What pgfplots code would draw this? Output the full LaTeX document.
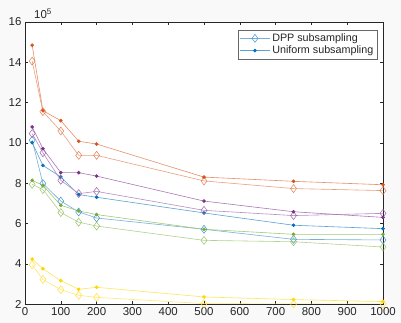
\documentclass[border=0pt]{standalone}
\usepackage{fontspec}
\setmainfont{Liberation Sans}
\usepackage{pgfplots}
\pgfplotsset{compat=1.18}
\definecolor{mblue}{rgb}{0,0.447,0.741}
\definecolor{morange}{rgb}{0.85,0.325,0.098}
\definecolor{myellow}{RGB}{255,215,0}
\definecolor{mpurple}{rgb}{0.494,0.184,0.556}
\definecolor{mgreen}{rgb}{0.466,0.674,0.188}
\definecolor{axcol}{RGB}{38,38,38}
\pgfplotsset{
  dpp/.style={color=#1!55!white, line width=0.6pt, mark=diamond, mark size=4bp, mark options={draw=#1!75!white, fill=white, line width=0.5pt}},
  uni/.style={color=#1!65!white, line width=0.6pt, mark=*, mark size=1.5bp, mark options={draw=#1, fill=#1}},
}
\begin{document}
\begin{tikzpicture}
\fill[gray!5] (0,0) rectangle (401bp,323bp);
\begin{axis}[
  name=ax,
  at={(25bp,19bp)}, anchor=south west,
  scale only axis, width=358bp, height=282bp,
  xmin=0, xmax=1000, ymin=2, ymax=16,
  xtick={0,100,...,1000}, ytick={2,4,...,16},
  tick align=inside, major tick length=3bp,
  tick style={color=axcol, line width=0.4pt},
  axis line style={color=axcol, line width=0.5pt},
  axis background/.style={fill=white},
  ticklabel style={font=\fontsize{11.5}{12}\selectfont, color=axcol},
  /pgf/number format/assume math mode=true,
  /pgf/number format/1000 sep={},
  legend cell align=left,
  legend style={at={(1,1)}, anchor=north east, xshift=-6bp, yshift=-8bp,
    draw=axcol!70, fill=white, font=\fontsize{10.8}{12}\selectfont, text=axcol,
    inner sep=1.5pt, row sep=-1pt},
  legend image code/.code={\draw[mark repeat=2,mark phase=2,#1] plot coordinates {(0bp,0bp) (15bp,0bp) (30bp,0bp)};},
]
% blue
\addplot[dpp=mblue] coordinates {(20,10.13) (50,7.98) (100,7.11) (150,6.57) (200,6.27) (500,5.71) (750,5.21) (1000,5.18)};
\addlegendentry{DPP subsampling}
\addplot[uni=mblue] coordinates {(20,10.01) (50,8.88) (100,8.31) (150,7.43) (200,7.30) (500,6.52) (750,5.91) (1000,5.74)};
\addlegendentry{Uniform subsampling}
% orange
\addplot[dpp=morange, forget plot] coordinates {(20,14.06) (50,11.55) (100,10.59) (150,9.38) (200,9.38) (500,8.11) (750,7.73) (1000,7.63)};
\addplot[uni=morange, forget plot] coordinates {(20,14.85) (50,11.60) (100,11.10) (150,10.08) (200,9.94) (500,8.30) (750,8.09) (1000,7.92)};
% purple
\addplot[dpp=mpurple, forget plot] coordinates {(20,10.46) (50,9.51) (100,8.14) (150,7.48) (200,7.59) (500,6.65) (750,6.39) (1000,6.50)};
\addplot[uni=mpurple, forget plot] coordinates {(20,10.79) (50,9.71) (100,8.52) (150,8.52) (200,8.35) (500,7.11) (750,6.58) (1000,6.30)};
% green
\addplot[dpp=mgreen, forget plot] coordinates {(20,7.94) (50,7.68) (100,6.54) (150,6.06) (200,5.87) (500,5.16) (750,5.09) (1000,4.83)};
\addplot[uni=mgreen, forget plot] coordinates {(20,8.14) (50,7.89) (100,6.90) (150,6.62) (200,6.44) (500,5.71) (750,5.46) (1000,5.46)};
% yellow
\addplot[dpp=myellow, forget plot] coordinates {(20,3.95) (50,3.22) (100,2.71) (150,2.43) (200,2.33) (500,2.02) (750,2.0) (1000,2.0)};
\addplot[uni=myellow, forget plot] coordinates {(20,4.23) (50,3.75) (100,3.16) (150,2.73) (200,2.83) (500,2.35) (750,2.22) (1000,2.12)};
\end{axis}
\node[anchor=south west, inner sep=0pt, font=\fontsize{11.5}{12}\selectfont, text=axcol] at ([xshift=9bp,yshift=3bp]ax.north west) {10\textsuperscript{5}};
\end{tikzpicture}
\end{document}
